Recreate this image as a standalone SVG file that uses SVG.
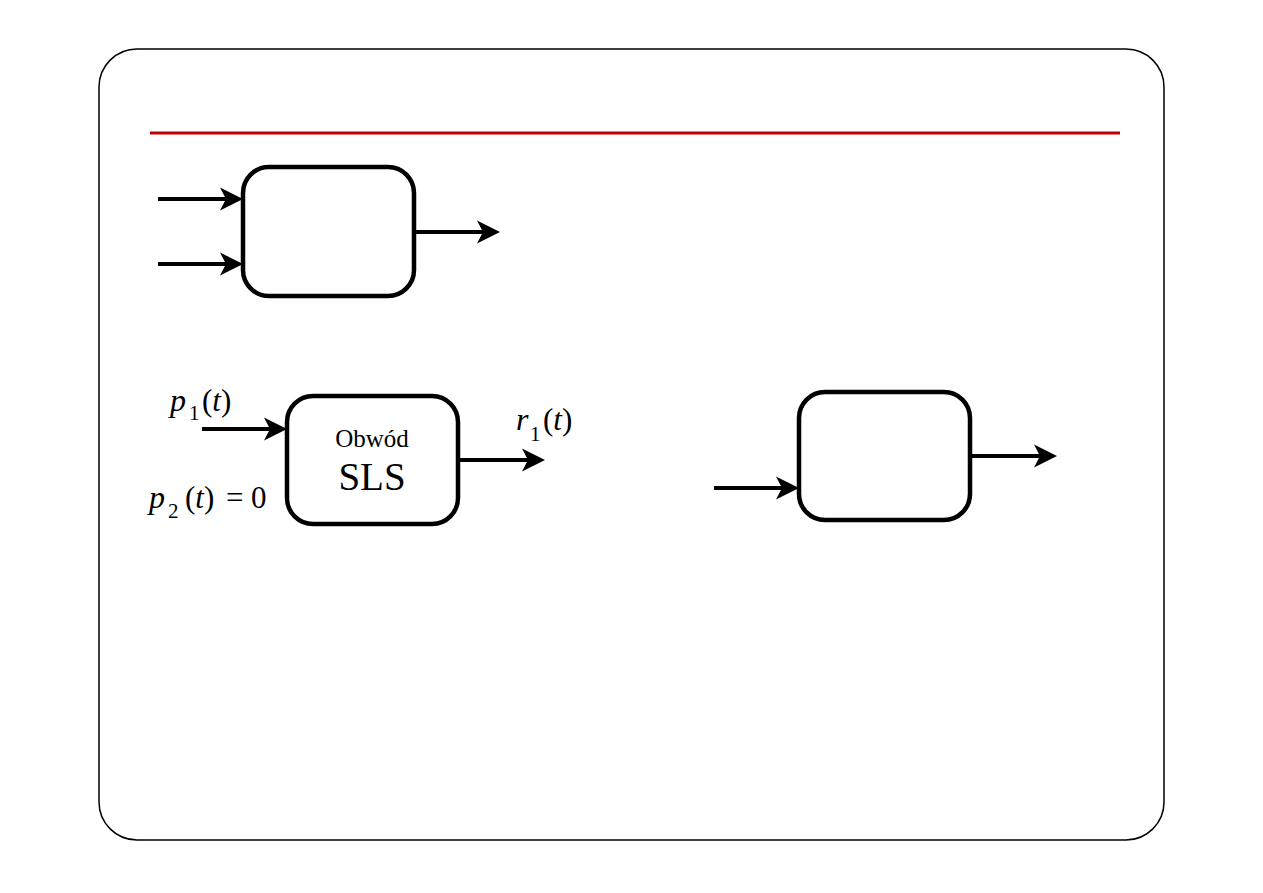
<svg xmlns="http://www.w3.org/2000/svg" width="1263" height="893" viewBox="0 0 1263 893">
<style>
.box{fill:#fff;stroke:#000;stroke-width:4.5}
.ln{stroke:#000;stroke-width:4;fill:none}
.t{font-family:"Liberation Serif","Times New Roman",serif;fill:#000}
.i{font-style:italic}
</style>
<defs>
<marker id="ah" markerUnits="userSpaceOnUse" markerWidth="26" markerHeight="26" refX="15" refY="12" orient="auto">
<path d="M23,12 L0,0.5 L6,12 L0,23.5 Z" fill="#000"/>
</marker>
</defs>
<rect width="1263" height="893" fill="#fff"/>
<rect x="99" y="49" width="1065" height="791" rx="38" fill="none" stroke="#000" stroke-width="1.5"/>
<line x1="150" y1="133" x2="1120" y2="133" stroke="#c00000" stroke-width="3"/>
<g id="connectors">
<line class="ln" x1="158" y1="199" x2="235" y2="199" marker-end="url(#ah)"/>
<line class="ln" x1="158" y1="264" x2="235" y2="264" marker-end="url(#ah)"/>
<line class="ln" x1="414" y1="232" x2="492" y2="232" marker-end="url(#ah)"/>
<line class="ln" x1="202" y1="429" x2="279" y2="429" marker-end="url(#ah)"/>
<line class="ln" x1="458" y1="460" x2="537" y2="460" marker-end="url(#ah)"/>
<line class="ln" x1="714" y1="488" x2="791" y2="488" marker-end="url(#ah)"/>
<line class="ln" x1="970" y1="456" x2="1049" y2="456" marker-end="url(#ah)"/>
</g>
<g id="box1"><rect class="box" x="243" y="167" width="171" height="129" rx="26"/></g>
<g id="box2">
<rect class="box" x="287" y="396" width="171" height="128" rx="26"/>
<text class="t" x="372" y="447" font-size="25" text-anchor="middle">Obwód</text>
<text class="t" x="372" y="490" font-size="39" text-anchor="middle">SLS</text>
</g>
<g id="box3"><rect class="box" x="799" y="392" width="171" height="128" rx="26"/></g>
<g id="labels">
<text class="t" font-size="31"><tspan class="i" x="170" y="411" font-size="32">p</tspan><tspan font-size="21" x="189" y="420">1</tspan><tspan x="202" y="411">(</tspan><tspan class="i">t</tspan>)</text>
<text class="t" font-size="31"><tspan class="i" x="149" y="508" font-size="32">p</tspan><tspan font-size="21" x="168" y="518">2</tspan><tspan x="185" y="508">(</tspan><tspan class="i">t</tspan>)<tspan x="226">=</tspan><tspan x="251">0</tspan></text>
<text class="t" font-size="31"><tspan class="i" x="516" y="430" font-size="32">r</tspan><tspan font-size="21" x="530" y="441">1</tspan><tspan x="543" y="430">(</tspan><tspan class="i">t</tspan>)</text>
</g>
</svg>
